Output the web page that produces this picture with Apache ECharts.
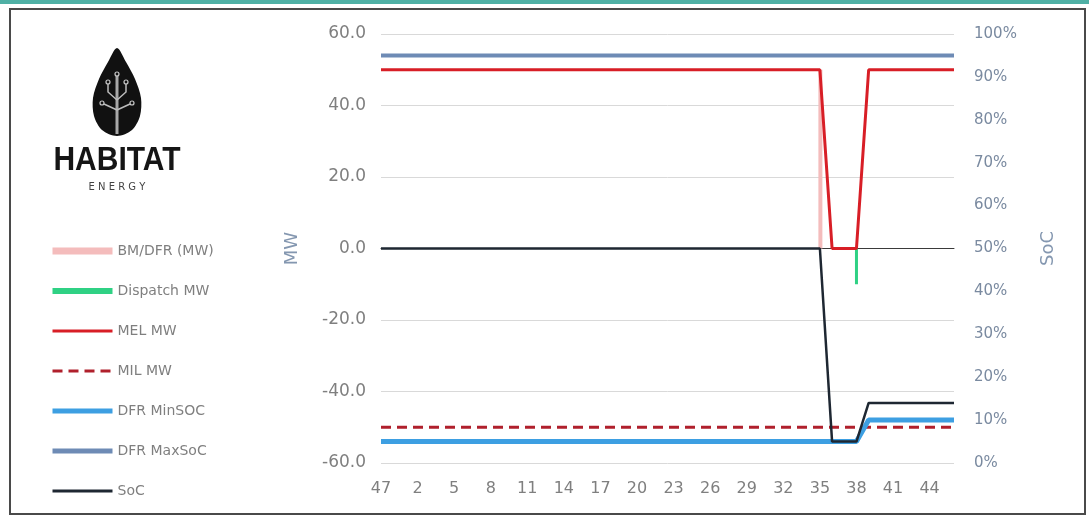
<!DOCTYPE html>
<html><head><meta charset="utf-8">
<script src="https://cdn.jsdelivr.net/npm/echarts@6/dist/echarts.min.js"></script>
<style>html,body{margin:0;padding:0;background:#fff}#c{width:1089px;height:520px}</style>
</head><body><div id="c"></div>
<script>
// Settlement periods shown on the x axis
const periods = [47,48,1,2,3,4,5,6,7,8,9,10,11,12,13,14,15,16,17,18,19,20,21,22,23,24,25,26,27,28,29,30,31,32,33,34,35,36,37,38,39,40,41,42,43,44,45,46];
// MW series (left axis)
const bmDfr    = [0,0,0,0,0,0,0,0,0,0,0,0,0,0,0,0,0,0,0,0,0,0,0,0,0,0,0,0,0,0,0,0,0,0,0,0,50,0,0,0,0,0,0,0,0,0,0,0];
const dispatch = [0,0,0,0,0,0,0,0,0,0,0,0,0,0,0,0,0,0,0,0,0,0,0,0,0,0,0,0,0,0,0,0,0,0,0,0,0,0,0,-10,0,0,0,0,0,0,0,0];
const melMW    = [50,50,50,50,50,50,50,50,50,50,50,50,50,50,50,50,50,50,50,50,50,50,50,50,50,50,50,50,50,50,50,50,50,50,50,50,50,0,0,0,50,50,50,50,50,50,50,50];
const milMW    = [-50,-50,-50,-50,-50,-50,-50,-50,-50,-50,-50,-50,-50,-50,-50,-50,-50,-50,-50,-50,-50,-50,-50,-50,-50,-50,-50,-50,-50,-50,-50,-50,-50,-50,-50,-50,-50,-50,-50,-50,-50,-50,-50,-50,-50,-50,-50,-50];
// SoC series (right axis, %)
const dfrMinSoc = [5,5,5,5,5,5,5,5,5,5,5,5,5,5,5,5,5,5,5,5,5,5,5,5,5,5,5,5,5,5,5,5,5,5,5,5,5,5,5,5,10,10,10,10,10,10,10,10];
const dfrMaxSoc = [95,95,95,95,95,95,95,95,95,95,95,95,95,95,95,95,95,95,95,95,95,95,95,95,95,95,95,95,95,95,95,95,95,95,95,95,95,95,95,95,95,95,95,95,95,95,95,95];
const socPct    = [50,50,50,50,50,50,50,50,50,50,50,50,50,50,50,50,50,50,50,50,50,50,50,50,50,50,50,50,50,50,50,50,50,50,50,50,50,5,5,5,14,14,14,14,14,14,14,14];
// Axis settings
const mwTicks = {min:-60, max:60, interval:20};
const socTicks = {min:0, max:100, interval:10};

const FONT = 'DejaVu Sans';
const chart = echarts.init(document.getElementById('c'), null, {renderer:'canvas'});

const leafPts = [[117,48],[126,62],[135,79],[141,98],[140,116],[132,130],[117,136],[102,130],[94,116],[93,98],[99,79],[108,62]];
const hideSym = {opacity:0, color:'rgba(0,0,0,0)', borderWidth:0};

chart.setOption({
  animation:false,
  backgroundColor:'#ffffff',
  textStyle:{fontFamily:FONT},
  grid:{left:381, right:135, top:34, bottom:57},
  legend:{
    orient:'vertical', left:45, top:239, itemWidth:60, itemHeight:14, itemGap:26,
    symbolKeepAspect:true,
    textStyle:{color:'#7f7f7f', fontSize:14, fontFamily:FONT},
    data:[
      {name:'BM/DFR (MW)', icon:'path://M0,0L60,0L60,7L0,7Z'},
      {name:'Dispatch MW', icon:'path://M0,0L60,0L60,6L0,6Z'},
      {name:'MEL MW', itemStyle:hideSym, lineStyle:{width:3}},
      {name:'MIL MW', itemStyle:hideSym, lineStyle:{width:3, type:[10,6]}},
      {name:'DFR MinSOC', itemStyle:hideSym, lineStyle:{width:5}},
      {name:'DFR MaxSoC', itemStyle:hideSym, lineStyle:{width:5}},
      {name:'SoC', itemStyle:hideSym, lineStyle:{width:3}}
    ]
  },
  xAxis:[{
    type:'category', data:periods, boundaryGap:false,
    axisLine:{show:false}, axisTick:{show:false}, splitLine:{show:false},
    axisLabel:{interval:2, color:'#7f7f7f', fontSize:16, margin:18, fontFamily:FONT}
  },{
    type:'category', data:periods, boundaryGap:false, position:'bottom',
    axisLine:{show:true, onZero:true, onZeroAxisIndex:0, lineStyle:{color:'#3a3a3a', width:1}},
    axisTick:{show:false}, axisLabel:{show:false}, splitLine:{show:false}
  }],
  yAxis:[{
    type:'value', min:mwTicks.min, max:mwTicks.max, interval:mwTicks.interval,
    name:'MW', nameLocation:'middle', nameRotate:90, nameGap:80,
    nameTextStyle:{color:'#8497b0', fontSize:18, fontFamily:FONT},
    axisLine:{show:false}, axisTick:{show:false},
    axisLabel:{color:'#7f7f7f', fontSize:17, margin:15, fontFamily:FONT, formatter:v=>v.toFixed(1)},
    splitLine:{lineStyle:{color:'#d9d9d9', width:1}}
  },{
    type:'value', min:socTicks.min, max:socTicks.max, interval:socTicks.interval, position:'right',
    name:'SoC', nameLocation:'middle', nameRotate:90, nameGap:85,
    nameTextStyle:{color:'#8497b0', fontSize:18, fontFamily:FONT},
    axisLine:{show:false}, axisTick:{show:false}, splitLine:{show:false},
    axisLabel:{color:'#7a8aa0', fontSize:15, margin:20, fontFamily:FONT, formatter:v=>v+'%'}
  }],
  series:[
    {name:'BM/DFR (MW)', type:'bar', data:bmDfr, barWidth:4, barGap:'-100%', itemStyle:{color:'#f4bcbc'}, z:2},
    {name:'Dispatch MW', type:'bar', data:dispatch, barWidth:3, barGap:'-100%', itemStyle:{color:'#2fd184'}, z:2},
    {name:'MIL MW', type:'line', data:milMW, symbol:'none', lineStyle:{color:'#b0202c', width:3, type:[10,6]}, itemStyle:{color:'#b0202c'}, z:3},
    {name:'DFR MinSOC', type:'line', yAxisIndex:1, data:dfrMinSoc, symbol:'none', lineStyle:{color:'#3d9fe2', width:5}, itemStyle:{color:'#3d9fe2'}, z:3},
    {name:'DFR MaxSoC', type:'line', yAxisIndex:1, data:dfrMaxSoc, symbol:'none', lineStyle:{color:'#6e8bb5', width:4}, itemStyle:{color:'#6e8bb5'}, z:3},
    {name:'MEL MW', type:'line', data:melMW, symbol:'none', lineStyle:{color:'#d81e26', width:3}, itemStyle:{color:'#d81e26'}, z:4},
    {name:'SoC', type:'line', yAxisIndex:1, data:socPct, symbol:'none', lineStyle:{color:'#1e2732', width:2.5}, itemStyle:{color:'#1e2732'}, z:5}
  ],
  graphic:[
    {type:'rect', shape:{x:0,y:0,width:1089,height:4}, style:{fill:'#4fb0a5'}, silent:true},
    {type:'rect', shape:{x:10,y:9,width:1075,height:505}, style:{fill:'none', stroke:'#4a4a4a', lineWidth:2}, silent:true},
    {type:'polygon', shape:{points:leafPts, smooth:0.3}, style:{fill:'#111'}, silent:true},
    {type:'line', shape:{x1:117,y1:134,x2:117,y2:76}, style:{stroke:'#a8a8a8', lineWidth:3}, silent:true},
    {type:'polyline', shape:{points:[[117,100],[108,92],[108,84]]}, style:{stroke:'#bcbcbc', lineWidth:1.5, fill:null}, silent:true},
    {type:'polyline', shape:{points:[[117,100],[126,92],[126,84]]}, style:{stroke:'#bcbcbc', lineWidth:1.5, fill:null}, silent:true},
    {type:'line', shape:{x1:117,y1:110,x2:104,y2:104}, style:{stroke:'#bcbcbc', lineWidth:1.5}, silent:true},
    {type:'line', shape:{x1:117,y1:110,x2:130,y2:104}, style:{stroke:'#bcbcbc', lineWidth:1.5}, silent:true},
    {type:'circle', shape:{cx:117,cy:74,r:2}, style:{fill:'none', stroke:'#c8c8c8', lineWidth:1.2}, silent:true},
    {type:'circle', shape:{cx:108,cy:82,r:2}, style:{fill:'none', stroke:'#c8c8c8', lineWidth:1.2}, silent:true},
    {type:'circle', shape:{cx:126,cy:82,r:2}, style:{fill:'none', stroke:'#c8c8c8', lineWidth:1.2}, silent:true},
    {type:'circle', shape:{cx:102,cy:103,r:2}, style:{fill:'none', stroke:'#c8c8c8', lineWidth:1.2}, silent:true},
    {type:'circle', shape:{cx:132,cy:103,r:2}, style:{fill:'none', stroke:'#c8c8c8', lineWidth:1.2}, silent:true},
    {type:'text', x:117, y:161, scaleY:1.12, style:{text:'HABITAT', fill:'#151515', font:'bold 30px "Liberation Sans"', textAlign:'center', textVerticalAlign:'middle'}, silent:true},
    {type:'text', x:117, y:187, style:{text:'E N E R G Y', fill:'#444', font:'10px "DejaVu Sans"', textAlign:'center', textVerticalAlign:'middle'}, silent:true}
  ]
});
</script>
</body></html>
